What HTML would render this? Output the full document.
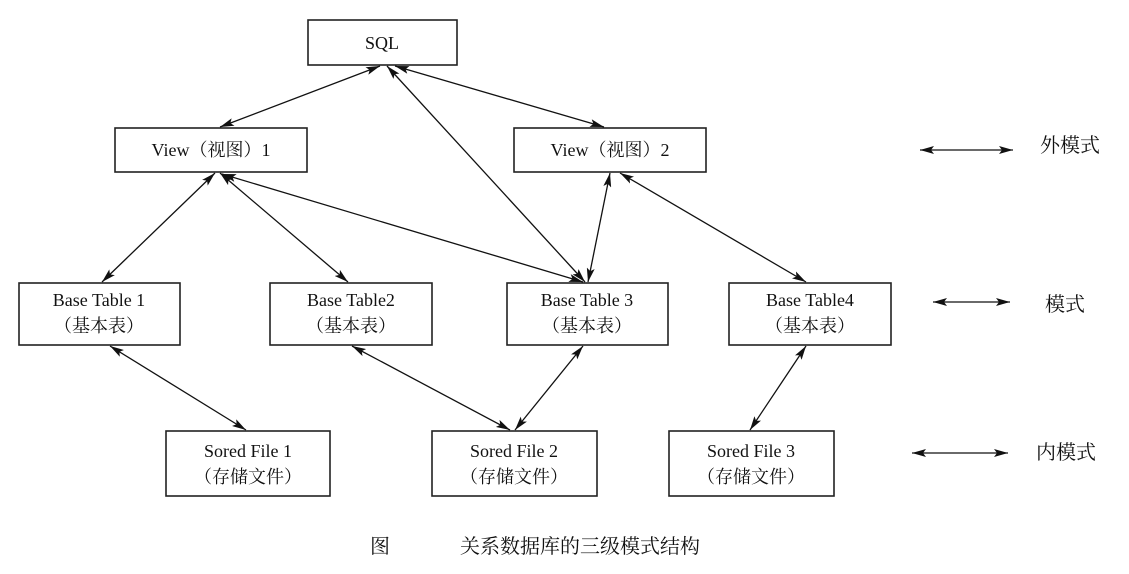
<!DOCTYPE html>
<html><head><meta charset="utf-8"><style>
body{margin:0;background:#fff;}
svg text{font-family:"Liberation Serif","Noto Serif CJK SC",serif;fill:#111;}
</style></head><body>
<svg width="1129" height="569" viewBox="0 0 1129 569" xmlns="http://www.w3.org/2000/svg">
<defs>
<marker id="a" viewBox="0 0 14 8" refX="14" refY="4" markerWidth="14" markerHeight="8" markerUnits="userSpaceOnUse" orient="auto-start-reverse">
<path d="M0,0 L14,4 L0,8 L3,4 Z" fill="#111"/></marker>
</defs>
<g fill="#fff" stroke="#222" stroke-width="1.6">
<rect x="308" y="20" width="149" height="45"/>
<rect x="115" y="128" width="192" height="44"/>
<rect x="514" y="128" width="192" height="44"/>
<rect x="19" y="283" width="161" height="62"/>
<rect x="270" y="283" width="162" height="62"/>
<rect x="507" y="283" width="161" height="62"/>
<rect x="729" y="283" width="162" height="62"/>
<rect x="166" y="431" width="164" height="65"/>
<rect x="432" y="431" width="165" height="65"/>
<rect x="669" y="431" width="165" height="65"/>
</g>
<g stroke="#111" stroke-width="1.3" marker-start="url(#a)" marker-end="url(#a)" fill="none">
<line x1="380" y1="66" x2="220" y2="127"/>
<line x1="387" y1="66" x2="585" y2="282"/>
<line x1="395" y1="66" x2="604" y2="127"/>
<line x1="215" y1="173" x2="102" y2="282"/>
<line x1="220" y1="173" x2="348" y2="282"/>
<line x1="222" y1="174" x2="583" y2="282"/>
<line x1="610" y1="173" x2="588" y2="282"/>
<line x1="620" y1="173" x2="806" y2="282"/>
<line x1="110" y1="346" x2="246" y2="430"/>
<line x1="352" y1="346" x2="510" y2="430"/>
<line x1="583" y1="346" x2="515" y2="430"/>
<line x1="806" y1="346" x2="750" y2="430"/>
<line x1="920" y1="150" x2="1013" y2="150"/>
<line x1="933" y1="302" x2="1010" y2="302"/>
<line x1="912" y1="453" x2="1008" y2="453"/>
</g>
<g font-size="18" text-anchor="middle">
<text x="382" y="49">SQL</text>
<text x="211" y="156">View（视图）1</text>
<text x="610" y="156">View（视图）2</text>
<text x="99" y="306">Base Table 1</text><text x="99" y="332">（基本表）</text>
<text x="351" y="306">Base Table2</text><text x="351" y="332">（基本表）</text>
<text x="587" y="306">Base Table 3</text><text x="587" y="332">（基本表）</text>
<text x="810" y="306">Base Table4</text><text x="810" y="332">（基本表）</text>
<text x="248" y="457">Sored File 1</text><text x="248" y="483">（存储文件）</text>
<text x="514" y="457">Sored File 2</text><text x="514" y="483">（存储文件）</text>
<text x="751" y="457">Sored File 3</text><text x="751" y="483">（存储文件）</text>
</g>
<g font-size="20">
<text x="1040" y="152">外模式</text>
<text x="1045" y="311">模式</text>
<text x="1036" y="459">内模式</text>
<text x="370" y="553">图</text>
<text x="460" y="553">关系数据库的三级模式结构</text>
</g>
</svg>
</body></html>
